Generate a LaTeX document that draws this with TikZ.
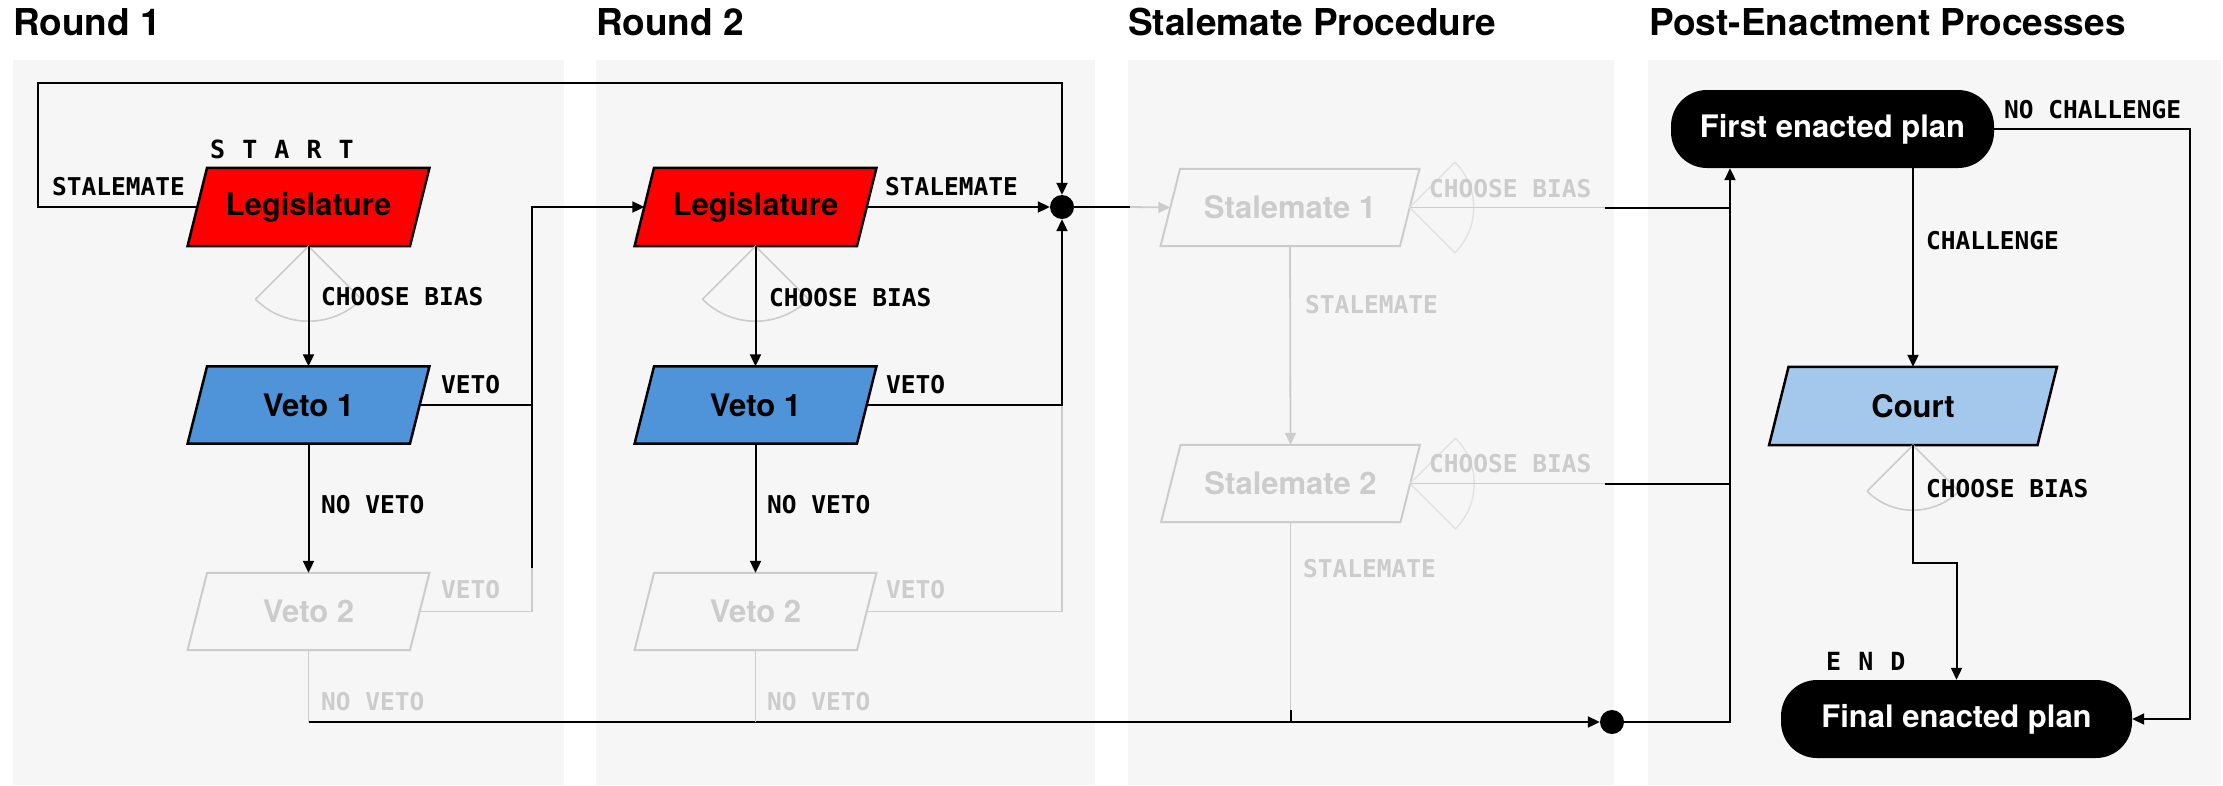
\documentclass[tikz,border=0pt]{standalone}
\usepackage{fontspec}
\setmainfont{TeX Gyre Heros}
\newfontfamily\labelmono{DejaVu Sans Mono}
\newfontfamily\spacedmono[LetterSpace=8]{DejaVu Sans Mono}
\usetikzlibrary{arrows.meta,calc}

\definecolor{panelbg}{HTML}{F6F6F6}
\definecolor{legred}{HTML}{FF0000}
\definecolor{vetoblue}{HTML}{4F94D8}
\definecolor{courtblue}{HTML}{A4C8EB}
\definecolor{faded}{HTML}{CCCCCC}
\definecolor{fainter}{HTML}{E2E2E2}

\pgfdeclarelayer{panels}
\pgfdeclarelayer{shapes}
\pgfsetlayers{panels,shapes,main}

\tikzset{
  x=1pt, y=1pt,
  paneltitle/.style={anchor=base west, inner sep=0, font=\bfseries\fontsize{37}{40}\selectfont},
  panel/.style={fill=panelbg, draw=none},
  boxtext/.style={rectangle, inner sep=0, minimum height=77,
    font=\bfseries\fontsize{31}{34}\selectfont},
  tag/.style={anchor=base west, inner sep=0, font=\labelmono\bfseries\fontsize{24.5}{28}\selectfont},
  fadedtag/.style={tag, text=faded},
  endtag/.style={anchor=base west, inner sep=0, font=\spacedmono\bfseries\fontsize{25}{28}\selectfont},
  flow/.style={line width=2pt, -{Triangle[length=12pt,width=11pt]}},
  wire/.style={line width=2pt},
  fadedflow/.style={line width=1.8pt, draw=faded, -{Triangle[length=12pt,width=11pt]}},
  fadedwire/.style={line width=1.8pt, draw=faded},
  sector/.style={line width=1.6pt, draw=faded},
  faintsector/.style={line width=1.4pt, draw=fainter},
  junction/.style={circle, fill=black, inner sep=0, minimum size=24},
  pill/.style={rectangle, fill=black, text=white, rounded corners=36, minimum height=78,
    inner sep=0, font=\bfseries\fontsize{31}{34}\selectfont},
}

% slanted box drawn behind a rectangular text node: name, fill, border colour, border width
\newcommand\slantbox[4]{%
  \filldraw[fill=#2, draw=#3, line width=#4, line join=miter]
    ($(#1.north west)+(9.75,0)$) -- ($(#1.north east)+(9.75,0)$) --
    ($(#1.south east)+(-9.75,0)$) -- ($(#1.south west)+(-9.75,0)$) -- cycle;}

\begin{document}
\begin{tikzpicture}
\useasboundingbox (0,0) rectangle (2223,-785);

% column backgrounds
\begin{pgfonlayer}{panels}
  \fill[panel] (13,-60) rectangle (564,-785);
  \fill[panel] (596,-60) rectangle (1095,-785);
  \fill[panel] (1128,-60) rectangle (1614,-785);
  \fill[panel] (1648,-60) rectangle (2221,-785);
\end{pgfonlayer}

% column titles
\node[paneltitle] (title1) at (13,-35) {Round 1};
\node[paneltitle] (title2) at (596,-35) {Round 2};
\node[paneltitle] (title3) at (1128,-35) {Stalemate Procedure};
\node[paneltitle] (title4) at (1649,-35) {Post-Enactment Processes};

% round 1
\node[boxtext, minimum width=222, minimum height=78] (leg1) at (308.5,-207) {Legislature};
\node[boxtext, minimum width=222] (v1a) at (308.5,-405) {Veto 1};
\node[boxtext, minimum width=222, text=faded] (v2a) at (308.5,-611.5) {Veto 2};

% round 2
\node[boxtext, minimum width=222, minimum height=78] (leg2) at (755.5,-207) {Legislature};
\node[boxtext, minimum width=222] (v1b) at (755.5,-405) {Veto 1};
\node[boxtext, minimum width=222, text=faded] (v2b) at (755.5,-611.5) {Veto 2};

% stalemate procedure
\node[boxtext, minimum width=239, text=faded] (st1) at (1290,-207.5) {Stalemate 1};
\node[boxtext, minimum width=239, text=faded] (st2) at (1290.5,-483.5) {Stalemate 2};

% post-enactment
\node[pill, minimum width=323] (first) at (1832.5,-129) {First enacted plan};
\node[boxtext, minimum width=268, minimum height=78] (court) at (1913,-406) {Court};
\node[pill, minimum width=351] (final) at (1956.5,-719) {Final enacted plan};

% junction dots
\node[junction] (dot1) at (1062,-207) {};
\node[junction] (dot2) at (1612,-722) {};

\begin{pgfonlayer}{shapes}
  \slantbox{leg1}{legred}{black}{2.5pt}
  \slantbox{v1a}{vetoblue}{black}{2.5pt}
  \slantbox{v2a}{panelbg}{faded}{2pt}
  \slantbox{leg2}{legred}{black}{2.5pt}
  \slantbox{v1b}{vetoblue}{black}{2.5pt}
  \slantbox{v2b}{panelbg}{faded}{2pt}
  \slantbox{st1}{panelbg}{faded}{2pt}
  \slantbox{st2}{panelbg}{faded}{2pt}
  \slantbox{court}{courtblue}{black}{2.5pt}
  % bias choice wedges
  \draw[sector] ($(leg1.south)+(225:75)$) -- (leg1.south) -- ($(leg1.south)+(315:75)$)
    arc[start angle=315, end angle=225, radius=75];
  \draw[sector] ($(leg2.south)+(225:75)$) -- (leg2.south) -- ($(leg2.south)+(315:75)$)
    arc[start angle=315, end angle=225, radius=75];
  \draw[faintsector] ($(st1.east)+(45:64)$) -- (st1.east) -- ($(st1.east)+(-45:64)$)
    arc[start angle=-45, end angle=45, radius=64];
  \draw[faintsector] ($(st2.east)+(45:64)$) -- (st2.east) -- ($(st2.east)+(-45:64)$)
    arc[start angle=-45, end angle=45, radius=64];
  \draw[sector] ($(court.south)+(225:65)$) -- (court.south) -- ($(court.south)+(315:65)$)
    arc[start angle=315, end angle=225, radius=65];
\end{pgfonlayer}

% routing points
\coordinate (loopcorner) at (38,-83);
\coordinate (r1bus) at (532,-568);
\coordinate (r1drop) at (308.5,-722);
\coordinate (handoff) at (1130,-207);
\coordinate (fadeA) at (1605,-207.5);
\coordinate (fadeB) at (1605,-483.5);
\coordinate (st2drop) at (1290.5,-710);
\coordinate (riser) at (1730,0);
\coordinate (nochal) at (2190,-400);
\coordinate (courtbend) at (0,-563);

% round 1 connectors
\draw[flow] (leg1.west) -| (loopcorner) -| (dot1.north);
\draw[flow] (leg1.south) -- (v1a.north);
\draw[fadedwire] (v2a.east) -| (r1bus);
\draw[wire] (r1bus) -- (v1a.east -| r1bus);
\draw[flow] (v1a.east) -- (v1a.east -| r1bus) |- (leg2.west);
\draw[flow] (v1a.south) -- (v2a.north);
\draw[fadedwire] (v2a.south) -- (r1drop);
\draw[flow] (r1drop) -- (dot2.west);

% round 2 connectors
\draw[flow] (leg2.east) -- (dot1.west);
\draw[flow] (leg2.south) -- (v1b.north);
\draw[fadedwire] (v2b.east) -| (v1b.east -| dot1.south);
\draw[flow] (v1b.east) -| (dot1.south);
\draw[flow] (v1b.south) -- (v2b.north);
\draw[fadedwire] (v2b.south) -- (v2b.south |- r1drop);

% stalemate connectors
\draw[wire] (dot1.east) -- (handoff);
\draw[fadedflow] (handoff) -- (st1.west);
\draw[fadedflow] (st1.south) -- (st2.north);
\draw[fadedwire] (st1.east) -- (fadeA);
\draw[wire] (fadeA) -- (fadeA -| riser);
\draw[fadedwire] (st2.east) -- (fadeB);
\draw[wire] (fadeB) -- (fadeB -| riser);
\draw[fadedwire] (st2.south) -- (st2drop);
\draw[wire] (st2drop) -- (st2drop |- r1drop);

% post-enactment connectors
\draw[flow] (dot2.east) -| (first.south -| riser);
\draw[flow] (first.east) -| (nochal) |- (final.east);
\draw[flow] (first.south -| court.north) -- (court.north);
\draw[flow] (court.south) -- (court.south |- courtbend) -| (final.north);

% edge labels
\node[endtag] (starttag) at (210,-158) {S T A R T};
\node[tag] (r1stale) at (52,-195) {STALEMATE};
\node[tag] (r1bias) at (321,-305) {CHOOSE BIAS};
\node[tag] (r1veto) at (441,-393) {VETO};
\node[tag] (r1noveto) at (321,-513) {NO VETO};
\node[fadedtag] (r1veto2) at (441,-598) {VETO};
\node[fadedtag] (r1noveto2) at (321,-710) {NO VETO};

\node[tag] (r2stale) at (885,-195) {STALEMATE};
\node[tag] (r2bias) at (769,-306) {CHOOSE BIAS};
\node[tag] (r2veto) at (886,-393) {VETO};
\node[tag] (r2noveto) at (767,-513) {NO VETO};
\node[fadedtag] (r2veto2) at (886,-598) {VETO};
\node[fadedtag] (r2noveto2) at (767,-710) {NO VETO};

\node[fadedtag] (s1bias) at (1429,-197) {CHOOSE BIAS};
\node[fadedtag] (s1stale) at (1305,-313) {STALEMATE};
\node[fadedtag] (s2bias) at (1429,-472) {CHOOSE BIAS};
\node[fadedtag] (s2stale) at (1303,-577) {STALEMATE};

\node[tag] (nochaltag) at (2004,-118) {NO CHALLENGE};
\node[tag] (chaltag) at (1926,-249) {CHALLENGE};
\node[tag] (courtbias) at (1926,-497) {CHOOSE BIAS};
\node[endtag] (endtag) at (1826,-670) {E N D};
\end{tikzpicture}
\end{document}
